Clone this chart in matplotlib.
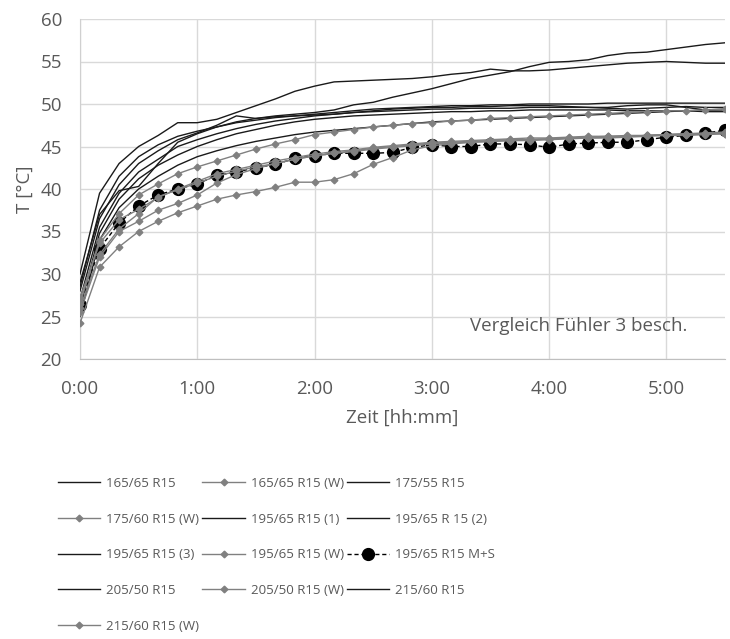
import matplotlib
matplotlib.use("Agg")
import matplotlib.pyplot as plt
from matplotlib.ticker import FuncFormatter, MultipleLocator
from matplotlib import font_manager

# ---------------- data ----------------
minutes = [0, 10, 20, 30, 40, 50, 60, 70, 80, 90, 100, 110, 120, 130, 140, 150, 160,
           170, 180, 190, 200, 210, 220, 230, 240, 250, 260, 270, 280, 290, 300, 310, 320, 330]

t_165_65 = [30.0, 39.5, 43.0, 45.0, 46.3, 47.8, 47.8, 48.2, 49.0, 49.8, 50.6, 51.5, 52.1, 52.6,
            52.7, 52.8, 52.9, 53.0, 53.2, 53.5, 53.7, 54.1, 53.9, 53.9, 54.0, 54.2, 54.4, 54.6,
            54.8, 54.9, 55.0, 54.9, 54.8, 54.8]
t_165_65_w = [24.2, 30.8, 33.2, 35.0, 36.2, 37.2, 38.0, 38.8, 39.3, 39.7, 40.2, 40.8, 40.8, 41.1,
              41.8, 42.9, 43.7, 44.6, 45.1, 45.3, 45.5, 45.6, 45.7, 45.8, 45.9, 46.0, 46.0, 46.1,
              46.2, 46.3, 46.4, 46.4, 46.5, 46.5]
t_175_55 = [29.0, 37.0, 39.8, 40.3, 43.0, 45.5, 46.5, 47.3, 47.9, 48.3, 48.6, 48.8, 49.0, 49.3,
            49.9, 50.2, 50.8, 51.3, 51.8, 52.4, 53.0, 53.4, 53.8, 54.4, 54.9, 55.0, 55.2, 55.7,
            56.0, 56.1, 56.4, 56.7, 57.0, 57.2]
t_175_60_w = [26.5, 34.0, 37.1, 39.3, 40.6, 41.8, 42.6, 43.3, 44.0, 44.7, 45.3, 45.8, 46.4, 46.7,
              47.0, 47.3, 47.5, 47.7, 47.8, 48.0, 48.1, 48.3, 48.4, 48.5, 48.6, 48.7, 48.8, 48.9,
              49.0, 49.1, 49.2, 49.2, 49.3, 49.4]
t_195_65_1 = [28.5, 37.5, 41.5, 43.8, 45.2, 46.2, 46.8, 47.3, 47.8, 48.1, 48.4, 48.6, 48.8, 49.0,
              49.2, 49.4, 49.5, 49.6, 49.7, 49.8, 49.8, 49.9, 49.9, 50.0, 50.0, 50.0, 50.0, 50.1,
              50.1, 50.1, 50.1, 50.1, 50.1, 50.1]
t_195_65_2 = [28.0, 36.5, 40.5, 43.0, 44.5, 45.8, 46.6, 47.5, 48.6, 48.3, 48.5, 48.6, 48.7, 48.8,
              49.0, 49.2, 49.4, 49.5, 49.6, 49.6, 49.7, 49.7, 49.8, 49.8, 49.8, 49.7, 49.6, 49.6,
              49.8, 49.9, 49.9, 49.6, 49.3, 49.3]
t_195_65_3 = [27.0, 35.5, 39.5, 42.0, 43.5, 45.0, 45.8, 46.5, 47.1, 47.6, 48.0, 48.3, 48.6, 48.8,
              49.0, 49.1, 49.2, 49.3, 49.4, 49.4, 49.5, 49.5, 49.5, 49.6, 49.6, 49.6, 49.6, 49.5,
              49.4, 49.5, 49.6, 49.7, 49.6, 49.6]
t_195_65_w = [26.0, 32.3, 35.3, 37.1, 39.1, 39.9, 40.7, 41.5, 42.1, 42.6, 43.0, 43.5, 43.9, 44.2,
              44.4, 44.7, 44.9, 45.1, 45.3, 45.4, 45.5, 45.6, 45.7, 45.7, 45.8, 45.9, 46.0, 46.0,
              46.1, 46.2, 46.3, 46.3, 46.4, 46.5]
t_195_65_ms = [26.3, 33.0, 36.0, 38.0, 39.3, 40.0, 40.6, 41.6, 42.0, 42.5, 42.9, 43.6, 43.9, 44.2,
               44.2, 44.2, 44.3, 44.9, 45.2, 45.0, 45.0, 45.3, 45.3, 45.2, 44.9, 45.3, 45.4, 45.5,
               45.5, 45.8, 46.1, 46.3, 46.6, 46.9]
t_205_50 = [26.0, 34.8, 38.8, 41.2, 42.8, 44.0, 45.0, 45.8, 46.5, 47.0, 47.5, 47.9, 48.2, 48.4,
            48.6, 48.7, 48.8, 48.9, 49.0, 49.1, 49.1, 49.2, 49.2, 49.3, 49.3, 49.3, 49.3, 49.3,
            49.2, 49.2, 49.2, 49.2, 49.1, 49.1]
t_205_50_w = [25.5, 32.0, 35.0, 36.2, 37.5, 38.3, 39.3, 40.7, 41.7, 42.4, 43.0, 43.5, 43.9, 44.2,
              44.5, 44.8, 45.0, 45.2, 45.4, 45.5, 45.6, 45.7, 45.8, 45.8, 45.9, 46.0, 46.1, 46.2,
              46.2, 46.3, 46.4, 46.5, 46.6, 46.7]
t_215_60 = [25.0, 34.0, 37.8, 40.0, 41.5, 42.8, 43.8, 44.5, 45.1, 45.6, 46.0, 46.4, 46.7, 46.9,
            47.1, 47.3, 47.5, 47.7, 47.9, 48.0, 48.1, 48.2, 48.3, 48.4, 48.5, 48.6, 48.7, 48.8,
            48.9, 49.0, 49.1, 49.2, 49.3, 49.4]
t_215_60_w = [27.2, 33.6, 36.4, 37.6, 39.0, 40.0, 40.9, 41.8, 42.3, 42.8, 43.3, 43.7, 44.1, 44.4,
              44.6, 44.9, 45.1, 45.3, 45.5, 45.6, 45.7, 45.8, 45.9, 46.0, 46.0, 46.1, 46.2, 46.2,
              46.3, 46.3, 46.4, 46.5, 46.5, 46.6]

labels = ["165/65 R15", "165/65 R15 (W)", "175/55 R15",
          "175/60 R15 (W)", "195/65 R15 (1)", "195/65 R 15 (2)",
          "195/65 R15 (3)", "195/65 R15 (W)", "195/65 R15 M+S",
          "205/50 R15", "205/50 R15 (W)", "215/60 R15",
          "215/60 R15 (W)"]
series = [t_165_65, t_165_65_w, t_175_55,
          t_175_60_w, t_195_65_1, t_195_65_2,
          t_195_65_3, t_195_65_w, t_195_65_ms,
          t_205_50, t_205_50_w, t_215_60,
          t_215_60_w]
kinds = ["black", "grey", "black",
         "grey", "black", "black",
         "black", "grey", "ms",
         "black", "grey", "black",
         "grey"]

# ---------------- style ----------------
names = {f.name for f in font_manager.fontManager.ttflist}
main_font = ["Open Sans", "DejaVu Sans"] if "Open Sans" in names else ["DejaVu Sans"]
txt_color = "#595959"

fig = plt.figure(figsize=(7.30, 6.39), dpi=100)
ax = fig.add_axes([80 / 730, 1 - 359 / 639, 645 / 730, 340 / 639])

handles = []
for lab, ys, k in zip(labels, series, kinds):
    if k == "black":
        h, = ax.plot(minutes, ys, color="#1a1a1a", lw=1.0, zorder=3, label=lab)
    elif k == "grey":
        h, = ax.plot(minutes, ys, color="#808080", lw=1.0, marker="D", ms=3.4,
                     mec="#808080", mfc="#808080", zorder=4, label=lab)
    else:
        h, = ax.plot(minutes, ys, color="black", lw=1.0, ls=(0, (3, 2)), marker="o",
                     ms=8.5, mec="black", mfc="black", zorder=2, label=lab)
    handles.append(h)

ax.set_xlim(0, 330)
ax.set_ylim(20, 60)
ax.xaxis.set_major_locator(MultipleLocator(60))
ax.yaxis.set_major_locator(MultipleLocator(5))
ax.xaxis.set_major_formatter(FuncFormatter(lambda v, p: f"{int(v // 60)}:{int(v % 60):02d}"))
ax.grid(True, color="#d9d9d9", lw=1.0, zorder=0)
ax.set_axisbelow(True)
for s in ["top", "right"]:
    ax.spines[s].set_visible(False)
ax.spines["left"].set_color("#d0d0d0")
ax.spines["bottom"].set_color("#bfbfbf")
ax.tick_params(length=0, labelcolor=txt_color, labelsize=13.5)
ax.tick_params(axis="y", pad=13)
ax.tick_params(axis="x", pad=15)
for lb in ax.get_xticklabels() + ax.get_yticklabels():
    lb.set_family(main_font)

ax.set_ylabel("T [°C]", color=txt_color, fontsize=13.5, family=main_font, labelpad=5)
ax.set_xlabel("Zeit [hh:mm]", color=txt_color, fontsize=13.5, family=main_font, labelpad=8)

ax.text((470 - 80) / 645, (359 - 326) / 340, "Vergleich Fühler 3 besch.",
        transform=ax.transAxes, ha="left", va="center", color=txt_color,
        fontsize=13.5, family=main_font)

order = [0, 3, 6, 9, 12, 1, 4, 7, 10, 2, 5, 8, 11]
leg = fig.legend([handles[i] for i in order], [labels[i] for i in order],
                 ncol=3, loc="upper left", bbox_to_anchor=(58 / 730, 1 - 477 / 639),
                 frameon=False, borderpad=0, borderaxespad=0,
                 handlelength=3.2, handletextpad=0.45, columnspacing=0.25,
                 labelspacing=1.72, prop={"family": main_font, "size": 9.5})
for t in leg.get_texts():
    t.set_color(txt_color)

fig.savefig("out.png", dpi=100)
